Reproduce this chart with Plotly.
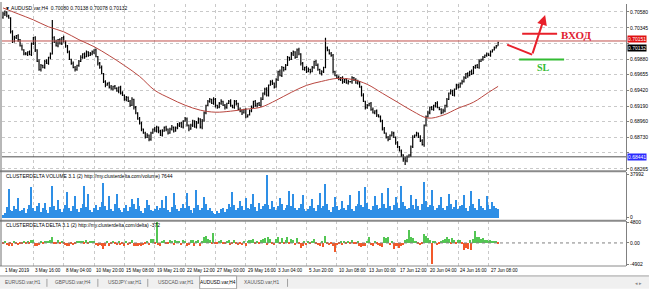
import plotly.graph_objects as go

# ---------------- DATA ----------------
# closes of AUDUSD H4 bars in 1e-4 price units
close_p4 = [
    7055, 7058, 7052, 7049, 7029, 7014, 7020, 7023, 7017, 7008,
    7002, 6996, 6996, 6999, 6995, 7011, 7020, 7002, 6985, 6973,
    6979, 6976, 6985, 6982, 6991, 6996, 7020, 7014, 7008, 7017,
    7011, 7020, 7014, 7008, 6999, 6988, 6982, 6976, 6973, 6979,
    6985, 6991, 6996, 6992, 6999, 6994, 6996, 6999, 7002, 6992,
    6982, 6976, 6967, 6955, 6950, 6953, 6947, 6944, 6948, 6945,
    6941, 6947, 6938, 6935, 6929, 6932, 6926, 6920, 6929, 6917,
    6909, 6900, 6894, 6885, 6879, 6873, 6876, 6870, 6879, 6885,
    6882, 6888, 6882, 6876, 6882, 6888, 6885, 6879, 6885, 6888,
    6882, 6887, 6891, 6894, 6888, 6897, 6900, 6891, 6885, 6891,
    6897, 6888, 6894, 6900, 6888, 6897, 6909, 6920, 6926, 6929,
    6923, 6929, 6920, 6917, 6923, 6926, 6920, 6917, 6923, 6926,
    6920, 6917, 6926, 6923, 6914, 6912, 6909, 6914, 6903, 6906,
    6912, 6917, 6926, 6920, 6923, 6920, 6929, 6938, 6944, 6935,
    6950, 6955, 6953, 6947, 6958, 6970, 6964, 6976, 6973, 6979,
    6991, 6988, 6996, 6999, 6991, 7002, 6996, 6982, 6973, 6976,
    6970, 6973, 6970, 6976, 6985, 6979, 6973, 6967, 6970, 6976,
    7005, 7002, 6996, 6994, 6970, 6964, 6961, 6958, 6961, 6955,
    6958, 6953, 6955, 6955, 6961, 6958, 6953, 6955, 6947, 6935,
    6926, 6917, 6920, 6923, 6914, 6909, 6912, 6906, 6903, 6897,
    6885, 6879, 6873, 6870, 6876, 6879, 6873, 6865, 6859, 6853,
    6847, 6841, 6838, 6844, 6847, 6859, 6873, 6876, 6879, 6873,
    6868, 6862, 6891, 6903, 6909, 6917, 6914, 6920, 6923, 6917,
    6914, 6909, 6912, 6920, 6929, 6938, 6941, 6935, 6944, 6950,
    6947, 6953, 6955, 6961, 6967, 6964, 6970, 6967, 6976, 6979,
    6976, 6985, 6988, 6991, 6994, 6996, 6994, 6999, 7002, 7005,
    7008, 7013,
]
first_open_p4 = 7050

upper_wick_p4 = [
    3, 2, 1, 2, 1, 2, 3, 1, 2, 1,  2, 1, 3, 1, 2, 2, 1, 2, 1, 3,
    2, 1, 2, 3, 1, 2, 26, 2, 3, 1,  2, 1, 3, 2, 1, 2, 1, 3, 2, 1,
    2, 3, 1, 2, 2, 1, 3, 2, 1, 2,  1, 2, 3, 1, 2, 1, 2, 3, 1, 2,
    2, 1, 2, 3, 1, 2, 1, 2, 3, 1,  2, 1, 3, 2, 1, 2, 3, 1, 2, 1,
    3, 2, 1, 2, 3, 1, 2, 1, 2, 3,  1, 2, 3, 1, 2, 1, 3, 2, 1, 2,
    2, 1, 3, 2, 1, 3, 2, 1, 2, 2,  1, 3, 2, 1, 2, 3, 1, 2, 1, 2,
    3, 1, 2, 2, 1, 3, 2, 1, 2, 1,  2, 3, 1, 2, 1, 2, 3, 1, 2, 3,
    1, 2, 3, 1, 2, 1, 3, 2, 1, 2,  2, 1, 3, 2, 1, 2, 3, 1, 2, 1,
    2, 3, 1, 2, 1, 2, 3, 1, 2, 1,  15, 2, 1, 3, 2, 1, 2, 3, 1, 2,
    1, 2, 3, 1, 2, 1, 2, 3, 1, 2,  3, 1, 2, 1, 2, 3, 1, 2, 1, 2,
    2, 3, 1, 2, 1, 3, 2, 1, 2, 1,  2, 1, 3, 2, 1, 2, 3, 1, 2, 1,
    3, 2, 1, 2, 3, 1, 2, 1, 2, 3,  1, 2, 3, 1, 2, 1, 3, 2, 1, 2,
    2, 1, 3, 2, 1, 2, 1, 3, 2, 1,  2, 3, 1, 2, 1, 2, 1, 2, 1, 2,
    1, 1,
]
lower_wick_p4 = [
    2, 3, 2, 1, 3, 2, 1, 2, 3, 1,  1, 2, 2, 3, 1, 2, 2, 3, 1, 2,
    3, 1, 2, 1, 2, 3, 1, 2, 1, 2,  1, 2, 1, 3, 2, 1, 2, 1, 3, 2,
    2, 1, 2, 3, 1, 2, 1, 2, 3, 1,  3, 2, 1, 2, 3, 1, 2, 1, 2, 1,
    1, 3, 2, 1, 2, 3, 1, 2, 1, 3,  2, 1, 2, 3, 1, 2, 1, 3, 2, 1,
    1, 2, 3, 1, 2, 1, 3, 2, 1, 2,  2, 1, 2, 3, 1, 2, 1, 2, 3, 1,
    3, 1, 2, 1, 2, 3, 1, 2, 1, 2,  1, 2, 3, 2, 1, 2, 1, 3, 2, 1,
    2, 1, 2, 3, 1, 2, 3, 1, 2, 1,  1, 2, 1, 2, 3, 1, 2, 1, 3, 2,
    2, 1, 3, 2, 1, 2, 1, 2, 3, 1,  1, 2, 1, 3, 2, 1, 2, 3, 1, 2,
    2, 1, 3, 1, 2, 1, 2, 1, 3, 2,  1, 2, 1, 2, 3, 1, 2, 1, 2, 3,
    2, 1, 2, 1, 3, 2, 1, 2, 1, 2,  1, 3, 2, 1, 2, 1, 2, 3, 1, 2,
    2, 1, 2, 3, 1, 2, 1, 3, 2, 1,  3, 4, 6, 2, 1, 3, 2, 1, 2, 1,
    2, 1, 3, 2, 1, 2, 1, 2, 3, 1,  1, 2, 1, 2, 3, 1, 2, 1, 2, 1,
    2, 1, 2, 1, 2, 3, 1, 2, 1, 2,  1, 2, 1, 2, 1, 2, 1, 2, 1, 1,
    1, 0,
]

# moving average (read at every 8th bar)
ma_bar = [0, 8, 16, 24, 32, 40, 48, 56, 64, 72, 80, 88, 96, 104, 112, 120, 128,
          136, 144, 152, 160, 168, 176, 184, 192, 200, 208, 216, 224, 232, 240,
          248, 256, 261]
ma_p4 = [7063.9, 7055.1, 7046.3, 7036.0, 7028.7, 7017.0, 7006.7, 6993.5, 6978.9,
         6962.8, 6942.3, 6930.5, 6920.3, 6913.0, 6910.0, 6911.5, 6914.4, 6917.4,
         6927.6, 6939.3, 6949.6, 6955.5, 6959.8, 6958.4, 6951.1, 6937.9, 6924.7,
         6911.5, 6901.3, 6905.6, 6915.9, 6924.7, 6939.3, 6948.1]

# ClusterDelta volume (thousands)
volume_k = [
    2.5, 4.0, 9.5, 25.6, 7.0, 6.2, 10.5, 8.0, 17.7, 5.5,
    6.8, 9.0, 4.5, 7.5, 11.0, 27.4, 8.5, 6.0, 10.0, 13.3,
    5.0, 8.5, 13.0, 7.0, 4.2, 9.8, 28.3, 10.5, 6.5, 16.0,
    8.0, 5.2, 7.5, 11.5, 23.0, 9.0, 6.0, 10.2, 19.4, 7.8,
    5.0, 8.8, 12.0, 28.3, 9.5, 21.0, 6.5, 4.8, 8.2, 11.0,
    7.0, 9.5, 14.0, 31.0, 10.0, 6.8, 19.4, 8.0, 5.5, 12.5,
    21.0, 9.0, 7.2, 5.0, 8.5, 11.0, 6.0, 9.5, 17.0, 12.0,
    7.5, 17.7, 10.5, 6.0, 4.5, 9.0, 16.0, 11.5, 7.0, 5.5,
    8.0, 10.5, 6.5, 9.0, 16.0, 8.5, 19.4, 7.0, 5.0, 9.5,
    22.0, 11.0, 7.5, 5.8, 8.5, 12.0, 9.0, 22.0, 10.5, 6.5,
    4.5, 9.0, 24.7, 11.0, 7.0, 8.5, 18.5, 12.0, 6.5, 9.0,
    5.5, 4.0, 3.5, 6.0, 4.5, 7.5, 9.0, 5.0, 8.0, 12.0,
    9.5, 23.0, 11.0, 7.0, 8.5, 15.0, 10.0, 6.5, 17.7, 9.0,
    7.5, 12.0, 21.0, 9.5, 6.0, 13.0, 8.0, 10.5, 12.5, 37.992,
    11.0, 8.0, 15.0, 9.5, 6.5, 10.0, 17.7, 12.0, 7.0, 9.0,
    11.5, 24.0, 10.0, 21.0, 8.5, 6.5, 9.0, 12.0, 20.0, 8.0,
    5.5, 7.5, 10.0, 17.0, 9.0, 6.0, 11.0, 22.0, 8.5, 10.5,
    30.0, 12.0, 7.0, 5.0, 9.5, 18.0, 10.5, 6.5, 8.0, 15.0,
    9.0, 7.0, 11.5, 20.0, 8.0, 6.0, 10.0, 12.5, 24.0, 11.0,
    9.5, 27.0, 13.0, 8.0, 6.5, 10.5, 19.0, 11.0, 7.5, 9.0,
    22.0, 12.0, 8.5, 26.0, 10.0, 7.0, 11.0, 18.0, 13.5, 9.0,
    28.0, 14.0, 10.0, 7.5, 9.0, 20.0, 11.5, 8.0, 17.0, 10.0,
    6.5, 12.0, 32.0, 15.0, 9.5, 11.0, 25.0, 10.0, 7.0, 8.5,
    11.0, 18.0, 9.0, 6.5, 10.0, 21.0, 12.0, 8.0, 9.5, 16.0,
    7.5, 10.0, 11.5, 20.0, 9.0, 6.0, 10.5, 24.0, 12.0, 8.5,
    7.0, 17.0, 10.0, 9.0, 6.5, 19.0, 11.0, 8.0, 14.0, 10.0,
    9.0, 7.644,
]

# ClusterDelta delta
delta = [
    -300, 200, -500, -900, -400, -700, 300, -200, -600, -300,
    -400, 250, -350, 150, -200, 500, 700, -800, -900, -600,
    300, -250, 400, 200, 350, 600, 1200, -400, -300, 500,
    -200, 450, -300, -500, -700, -900, -400, -600, -300, 400,
    300, 450, 200, -350, 500, -200, 300, 150, 250, -600,
    -800, -500, -900, -1500, -700, 300, -800, -400, 250, -300,
    -500, 400, -600, -300, -700, 200, -500, -400, 600, -900,
    -700, -800, -500, -900, -600, -400, 300, -500, 800, 900,
    -300, 4800, -500, -700, 400, 600, -300, -400, 500, 300,
    -600, 500, 400, 300, -500, 700, 400, -800, -600, 500,
    600, -700, 300, 500, -900, 400, 1200, 1500, 900, 600,
    -300, 2200, -400, -200, 300, 500, -400, -300, 400, 600,
    -500, -300, 700, -200, -600, -400, -500, 300, -900, 400,
    500, 600, 800, -300, 400, -200, 700, 900, 1000, -600,
    1200, 800, -400, -500, 900, 1400, -300, 1100, -400, 600,
    1300, -300, 900, 700, -600, 1000, -400, -1200, -900, 300,
    -500, 200, -300, 400, 800, -400, -500, -700, 300, -1000,
    1500, -400, -600, -300, -900, -2200, -600, -400, 300, -500,
    200, -400, 300, -300, 500, -200, -400, 300, -800, -1000,
    -700, -900, 400, 1400, -500, -800, 300, -400, -600, -900,
    -1100, 1200, 1000, 1300, -500, 400, -1400, -700, -900, -1200,
    -800, -600, 500, 900, 2900, 1400, 1100, 400, 300, -400,
    -600, -300, 2100, 1500, 1000, 600, -4902, 400, 300, -500,
    -300, 400, 700, 900, 1200, 800, -400, 1100, 600, -300,
    500, 700, -400, -1700, -1200, -1500, 600, -1700, 800, 2600,
    1200, 1400, 900, 1100, 600, 700, 400, 500, 300, 200,
    400, -372,
]

time_labels = ["1 May 2019", "3 May 16:00", "8 May 04:00", "10 May 20:00", "15 May 08:00",
               "19 May 21:00", "22 May 12:00", "27 May 00:00", "29 May 16:00", "3 Jun 04:00",
               "5 Jun 20:00", "10 Jun 08:00", "13 Jun 00:00", "17 Jun 12:00", "20 Jun 04:00",
               "24 Jun 16:00", "27 Jun 08:00"]
bars_per_label = 16

price_ticks = [0.70580, 0.70345, 0.70110, 0.69880, 0.69655, 0.69420, 0.69190,
               0.68960, 0.68730, 0.68500, 0.68265]
hidden_ticks = [0.70110, 0.68500]   # covered by price tags in the terminal
level_red = 0.70151
level_blue = 0.68441
tabs = ["EURUSD.var,H1", "GBPUSD.var,H4", "USDJPY.var,H1", "USDCAD.var,H1",
        "AUDUSD.var,H4", "XAUUSD.var,H1"]

# ---------------- DERIVED ----------------
assert len(close_p4) == len(upper_wick_p4) == len(lower_wick_p4) == len(volume_k) == len(delta)
n = len(close_p4)
bars = list(range(n))
close = [c / 1e4 for c in close_p4]
opn = [first_open_p4 / 1e4] + close[:-1]
high = [max(o, c) + u / 1e4 for o, c, u in zip(opn, close, upper_wick_p4)]
low = [min(o, c) - d / 1e4 for o, c, d in zip(opn, close, lower_wick_p4)]
ma = [v / 1e4 for v in ma_p4]
volume = [v * 1000 for v in volume_k]
delta_colors = ["#53c653" if d >= 0 else "#f2592a" for d in delta]

W, H = 650, 289
ML, MR, MT, MB = 2, 23, 2, 23
PW, PH = W - ML - MR, H - MT - MB


def px(x):
    return (x - ML) / PW


def py(y):
    return (H - MB - y) / PH


FONT = "Liberation Sans"
SMALL = dict(family=FONT, size=5, color="#000000")
TINY = dict(family=FONT, size=4.6, color="#000000")

fig = go.Figure()
fig.add_trace(go.Ohlc(x=bars, open=opn, high=high, low=low, close=close,
                      increasing=dict(line=dict(color="#000000", width=1.2)),
                      decreasing=dict(line=dict(color="#000000", width=1.2)),
                      tickwidth=0.4, hoverinfo="skip", showlegend=False))
fig.add_trace(go.Scatter(x=ma_bar, y=ma, mode="lines", line=dict(color="#b8463f", width=1, shape="spline"),
                         hoverinfo="skip", showlegend=False))
fig.add_trace(go.Bar(x=bars, y=volume, yaxis="y2", marker=dict(color="#2e8fe6", line=dict(width=0)),
                     width=0.68, hoverinfo="skip", showlegend=False))
fig.add_trace(go.Bar(x=bars, y=delta, yaxis="y3", marker=dict(color=delta_colors, line=dict(width=0)),
                     width=0.68, hoverinfo="skip", showlegend=False))

grid = dict(showgrid=True, gridcolor="#c9c9c9", griddash="dot", gridwidth=1)
tick_bars = [k * bars_per_label for k in range(len(time_labels))]

fig.update_layout(
    width=W, height=H, margin=dict(l=ML, r=MR, t=MT, b=MB),
    paper_bgcolor="#ffffff", plot_bgcolor="#ffffff",
    showlegend=False, bargap=0,
    xaxis=dict(domain=[0, 1], range=[(ML - 3) / 1.9, (W - MR - 3) / 1.9], anchor="y3",
               tickvals=tick_bars, showticklabels=False, ticks="", zeroline=False,
               showline=False, rangeslider=dict(visible=False), **grid),
    yaxis=dict(domain=[py(170), 1], range=[0.68236, 0.70697], side="right", anchor="x",
               tickvals=price_ticks,
               ticktext=["" if t in hidden_ticks else f"{t:.5f}" for t in price_ticks],
               tickfont=SMALL, ticks="outside", ticklen=2, tickcolor="#808080",
               showline=True, linecolor="#808080", zeroline=False, **grid),
    yaxis2=dict(domain=[py(220), py(171)], range=[-2652, 40664], side="right", anchor="x",
                tickvals=[0, 37992], ticktext=["0", "37992"], tickfont=SMALL,
                ticks="outside", ticklen=2, tickcolor="#808080",
                showline=True, linecolor="#808080", showgrid=False, zeroline=False),
    yaxis3=dict(domain=[0, py(221)], range=[-5364, 5031], side="right", anchor="x",
                tickvals=[4800, 0, -4902], ticktext=["4800", "0.00", "-4902"], tickfont=SMALL,
                ticks="outside", ticklen=2, tickcolor="#808080",
                showline=True, linecolor="#808080", showgrid=False, zeroline=False),
)

shapes = []
shapes.append(dict(type="line", xref="paper", yref="y", x0=0, x1=1, y0=level_red, y1=level_red,
                   line=dict(color="#c0504d", width=1)))
shapes.append(dict(type="line", xref="paper", yref="y", x0=0, x1=1, y0=level_blue, y1=level_blue,
                   line=dict(color="#505050", width=1)))
shapes.append(dict(type="line", xref="paper", yref="y3", x0=0, x1=1, y0=0, y1=0,
                   line=dict(color="#808080", width=1, dash="dot")))
for yy, wdt in [(170.5, 2), (220.5, 2), (266, 1)]:
    shapes.append(dict(type="line", xref="paper", yref="paper", x0=px(0), x1=px(627), y0=py(yy), y1=py(yy),
                       line=dict(color="#8a8a8a", width=wdt)))
shapes.append(dict(type="line", xref="paper", yref="paper", x0=px(1), x1=px(1), y0=py(0), y1=py(266),
                   line=dict(color="#707070", width=1)))
shapes.append(dict(type="path", xref="paper", yref="paper",
                   path=f"M {px(508)},{py(43)} L {px(533)},{py(53)}",
                   line=dict(color="#e8202a", width=2)))
shapes.append(dict(type="line", xref="paper", yref="paper", x0=px(523), x1=px(558), y0=py(32), y1=py(32),
                   line=dict(color="#e8202a", width=2)))
shapes.append(dict(type="line", xref="paper", yref="paper", x0=px(520), x1=px(565), y0=py(58), y1=py(58),
                   line=dict(color="#33bb33", width=2)))
shapes.append(dict(type="rect", xref="paper", yref="paper", x0=px(0), x1=px(650), y0=py(289), y1=py(276),
                   fillcolor="#f0f0f0", line=dict(width=0)))
shapes.append(dict(type="line", xref="paper", yref="paper", x0=px(0), x1=px(650), y0=py(276), y1=py(276),
                   line=dict(color="#a0a0a0", width=1)))
shapes.append(dict(type="rect", xref="paper", yref="paper", x0=px(200), x1=px(237), y0=py(289), y1=py(276),
                   fillcolor="#ffffff", line=dict(color="#a0a0a0", width=1)))
for sx in [47, 98, 148, 288]:
    shapes.append(dict(type="line", xref="paper", yref="paper", x0=px(sx), x1=px(sx), y0=py(287), y1=py(279),
                       line=dict(color="#a0a0a0", width=1)))
fig.update_layout(shapes=shapes)

ann = []
ann.append(dict(xref="paper", yref="paper", x=px(3), y=py(6), xanchor="left", yanchor="middle",
                text="\u25bc AUDUSD.var,H4  0.70080 0.70138 0.70078 0.70132", showarrow=False, font=SMALL))
ann.append(dict(xref="paper", yref="paper", x=px(4), y=py(175.5), xanchor="left", yanchor="middle",
                text="CLUSTERDELTA VOLUME 3.1 (2) http://my.clusterdelta.com/volume) 7644",
                showarrow=False, font=SMALL))
ann.append(dict(xref="paper", yref="paper", x=px(4), y=py(225), xanchor="left", yanchor="middle",
                text="CLUSTERDELTA DELTA 3.1 (2) http://my.clusterdelta.com/delta) -372",
                showarrow=False, font=SMALL))
# price tags (red level above, bid below)
ann.append(dict(xref="paper", yref="y", x=px(628), y=level_red, xanchor="left", yanchor="bottom",
                text="0.70151", showarrow=False, bgcolor="#e01010", borderpad=0,
                font=dict(family=FONT, size=5, color="#ffffff"), yshift=-2))
ann.append(dict(xref="paper", yref="y", x=px(628), y=close[-1], xanchor="left", yanchor="top",
                text="0.70132", showarrow=False, bgcolor="#000000", borderpad=0,
                font=dict(family=FONT, size=5, color="#ffffff"), yshift=-2))
ann.append(dict(xref="paper", yref="y", x=px(628), y=level_blue, xanchor="left", yanchor="middle",
                text="0.68441", showarrow=False, bgcolor="#2a2aff", borderpad=0,
                font=dict(family=FONT, size=5, color="#ffffff")))
for b, t in zip(tick_bars, time_labels):
    ann.append(dict(xref="x", yref="paper", x=b, y=py(270.5), xanchor="left", yanchor="middle",
                    xshift=0, text=t, showarrow=False, font=TINY))
ann.append(dict(xref="paper", yref="paper", x=px(546), y=py(13), ax=533 - 546, ay=53 - 13,
                axref="pixel", ayref="pixel", text="", showarrow=True, arrowhead=2, arrowsize=1,
                arrowwidth=2, arrowcolor="#e8202a", standoff=0))
ann.append(dict(xref="paper", yref="paper", x=px(577), y=py(33), xanchor="center", yanchor="middle",
                text="<b>ВХОД</b>", showarrow=False,
                font=dict(family="Liberation Serif", size=11, color="#e02030")))
ann.append(dict(xref="paper", yref="paper", x=px(544), y=py(66), xanchor="center", yanchor="middle",
                text="<b>SL</b>", showarrow=False,
                font=dict(family="Liberation Serif", size=10, color="#33bb33")))
tab_x = [23, 73, 125, 176, 218, 262]
for tx, t in zip(tab_x, tabs):
    ann.append(dict(xref="paper", yref="paper", x=px(tx), y=py(283), xanchor="center", yanchor="middle",
                    text=t, showarrow=False,
                    font=dict(family=FONT, size=4.8, color="#000000" if t.startswith("AUD") else "#555555")))
ann.append(dict(xref="paper", yref="paper", x=px(640), y=py(283), xanchor="center", yanchor="middle",
                text="\u25c2 \u25b8", showarrow=False, font=dict(family=FONT, size=5, color="#888888")))
fig.update_layout(annotations=ann)

fig.write_html("out.html")
